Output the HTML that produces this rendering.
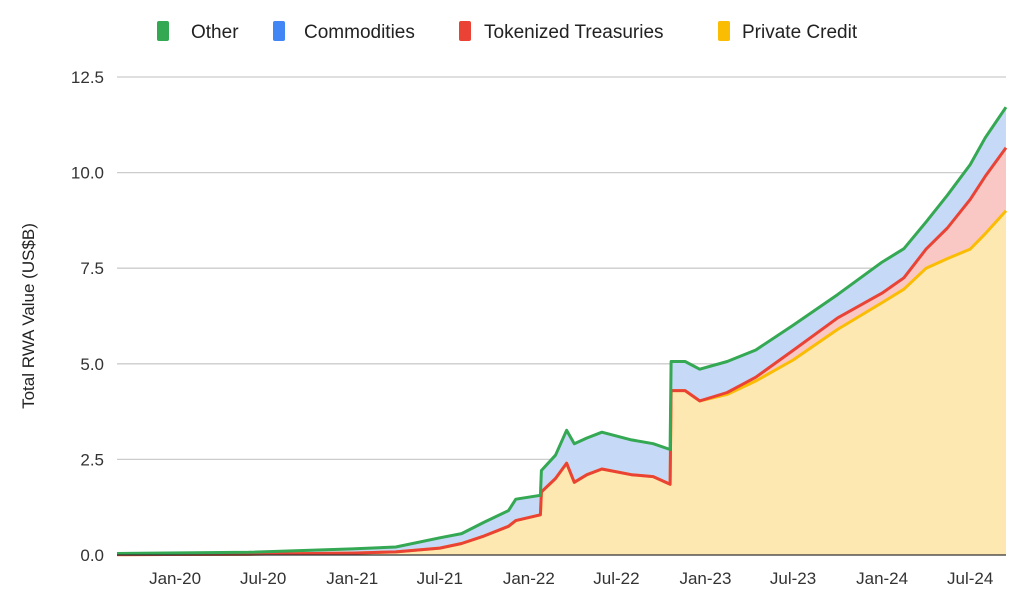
<!DOCTYPE html>
<html><head><meta charset="utf-8"><style>
body{margin:0;background:#fff;font-family:"Liberation Sans",Arial,sans-serif;}
svg text{font-family:"Liberation Sans",Arial,sans-serif;}
</style></head><body>
<svg id="chart" width="1024" height="597" viewBox="0 0 1024 597" xmlns="http://www.w3.org/2000/svg">
<g id="legend"></g>
<g id="grid"></g>
<g id="areas"></g>
<g id="lines"></g>
<g id="axes"></g>
<text transform="translate(34,316) rotate(-90)" text-anchor="middle" font-size="17" fill="#222">Total RWA Value (US$B)</text>
</svg>
<script>
const dates = ["2019-09-03","2020-06-01","2021-01-01","2021-04-01","2021-07-01","2021-08-15","2021-10-01","2021-11-20","2021-12-05","2022-01-25","2022-01-27","2022-02-25","2022-03-20","2022-04-05","2022-05-01","2022-06-01","2022-08-01","2022-09-15","2022-10-20","2022-10-22","2022-11-20","2022-12-20","2023-02-15","2023-04-15","2023-07-01","2023-10-01","2024-01-01","2024-02-15","2024-04-01","2024-05-15","2024-07-01","2024-08-01","2024-09-13"];
const privateCredit = [0.01,0.02,0.05,0.08,0.18,0.3,0.5,0.75,0.9,1.05,1.65,2.0,2.4,1.9,2.1,2.25,2.1,2.05,1.85,4.3,4.3,4.03,4.2,4.55,5.1,5.9,6.6,6.95,7.5,7.75,8.0,8.4,9.0];
const treasuries = [0,0,0,0,0,0,0,0,0,0,0,0,0,0,0,0,0,0,0,0,0,0,0.05,0.1,0.25,0.3,0.25,0.3,0.5,0.8,1.3,1.5,1.65];
const commodities = [0.02,0.04,0.1,0.12,0.26,0.25,0.35,0.4,0.55,0.5,0.55,0.6,0.85,1.0,0.95,0.95,0.9,0.85,0.9,0.75,0.75,0.82,0.8,0.7,0.65,0.6,0.8,0.75,0.7,0.85,0.9,1.0,1.05];
const other = Array(33).fill(0.01);
const yTicks = [0,2.5,5,7.5,10,12.5];
const yTickLabels = ["0.0","2.5","5.0","7.5","10.0","12.5"];
const xTicks = ["2020-01-01","2020-07-01","2021-01-01","2021-07-01","2022-01-01","2022-07-01","2023-01-01","2023-07-01","2024-01-01","2024-07-01"];
const xTickLabels = ["Jan-20","Jul-20","Jan-21","Jul-21","Jan-22","Jul-22","Jan-23","Jul-23","Jan-24","Jul-24"];

const NS="http://www.w3.org/2000/svg";
const X0=117,X1=1006,Y0=555,Y1=77;
const d0=Date.parse("2019-09-03"),d1=Date.parse("2024-09-13");
const xs=d=>X0+(Date.parse(d)-d0)/(d1-d0)*(X1-X0);
const ys=v=>Y0-v/12.5*(Y0-Y1);
function mk(tag,attrs,parent){const e=document.createElementNS(NS,tag);for(const k in attrs)e.setAttribute(k,attrs[k]);parent.appendChild(e);return e;}

const grid=document.getElementById('grid'),axes=document.getElementById('axes');
yTicks.forEach((v,i)=>{
  if(v>0){const l=mk('line',{x1:X0,x2:X1,y1:ys(v),y2:ys(v),stroke:'#ccc','stroke-width':1.3},grid);
  
  }
  const t=mk('text',{x:104,y:ys(v)+6,'text-anchor':'end','font-size':17,fill:'#333'},axes);
  t.textContent=yTickLabels[i];
  
  
});
xTicks.forEach((d,i)=>{
  const t=mk('text',{x:xs(d),y:584,'text-anchor':'middle','font-size':17,fill:'#333'},axes);
  t.textContent=xTickLabels[i];
  
  
});
const base=mk('line',{x1:X0,x2:X1,y1:Y0,y2:Y0,stroke:'#333','stroke-width':1.3},axes);



const s1=privateCredit.slice();
const s2=s1.map((v,i)=>v+treasuries[i]);
const s3=s2.map((v,i)=>v+commodities[i]);
const s4=s3.map((v,i)=>v+other[i]);
const layers=[
 {top:s4,bot:s3,fill:'#c9e6cf',line:'#34a853',name:'other'},
 {top:s3,bot:s2,fill:'#c6d9f7',line:null,name:'commodities'},
 {top:s2,bot:s1,fill:'#f9c8c4',line:'#ea4335',name:'tokenized-treasuries'},
 {top:s1,bot:null,fill:'#fde8b2',line:'#fbbc04',name:'private-credit'}];
const areas=document.getElementById('areas'),lines=document.getElementById('lines');
function pts(arr){return dates.map((d,i)=>xs(d).toFixed(1)+','+ys(arr[i]).toFixed(1));}
layers.slice().reverse().forEach(L=>{
  const top=pts(L.top);
  const bot=L.bot?pts(L.bot).reverse():[X1+','+Y0,X0+','+Y0];
  const p=mk('polygon',{points:top.concat(bot).join(' '),fill:L.fill},areas);
  
  
});
[layers[3],layers[2],layers[0]].forEach(L=>{
  const pl=mk('polyline',{points:pts(L.top).join(' '),fill:'none',stroke:L.line,'stroke-width':3,'stroke-linejoin':'round'},lines);
  
  
});

const legend=document.getElementById('legend');
const legItems=[["Other","#34a853",157,191],["Commodities","#4285f4",273,304],["Tokenized Treasuries","#ea4335",459,484],["Private Credit","#fbbc04",718,742]];
legItems.forEach(([lab,c,x,tx])=>{
  const g=mk('g',{},legend);
  
  
  mk('rect',{x:x,y:21,width:12,height:20,rx:2,fill:c},g);
  const t=mk('text',{x:tx,y:38,'font-size':19,fill:'#222'},g);
  t.textContent=lab;
});
</script>
</body></html>
